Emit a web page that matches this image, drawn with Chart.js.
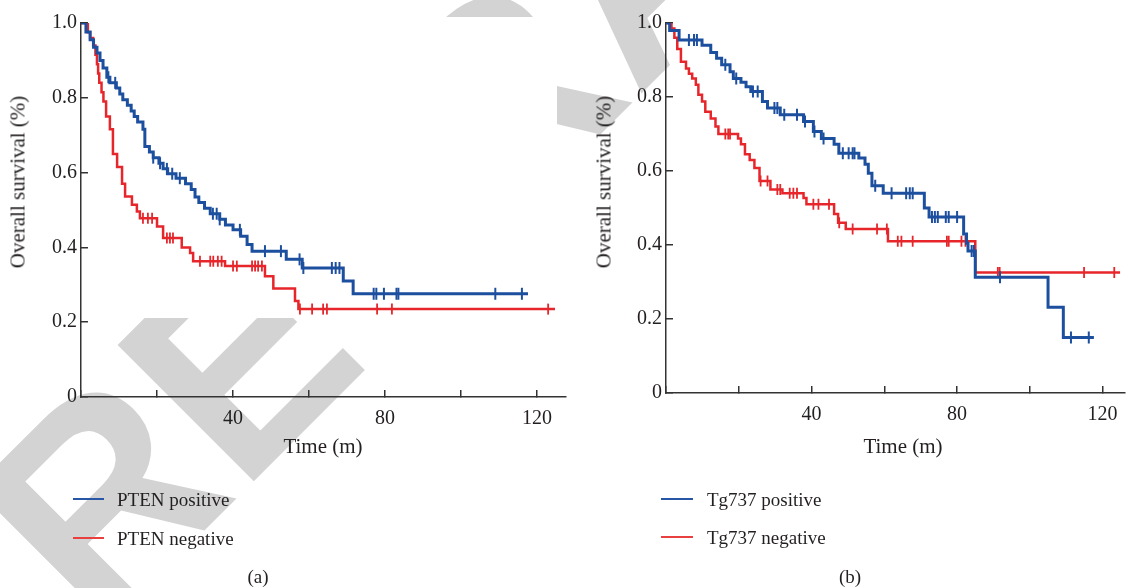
<!DOCTYPE html>
<html><head><meta charset="utf-8">
<script src="https://cdn.jsdelivr.net/npm/chart.js@4.4.0/dist/chart.umd.min.js"></script>
<style>
html,body{margin:0;padding:0;background:#fff;width:1135px;height:588px;overflow:hidden;position:relative;}
canvas{position:absolute;top:0;}
.t{position:absolute;font-family:'Liberation Serif',serif;color:#231f20;font-size:19px;white-space:nowrap;line-height:1;}
.ti{font-size:21px;}
.c{transform:translate(-50%,-50%);}
.l{transform:translate(0,-50%);}
.r{transform:translate(-50%,-50%) rotate(-90deg);}
.ln{position:absolute;height:1.5px;}
</style></head><body>
<canvas id="wm" width="1135" height="588" style="left:0"></canvas>
<canvas id="ca" width="580" height="470" style="left:0"></canvas>
<canvas id="cb" width="555" height="470" style="left:580px"></canvas>

<div class="t ti r" style="left:18px;top:182px">Overall survival (%)</div>
<div class="t ti c" style="left:323px;top:446px">Time (m)</div>
<div class="ln" style="left:73px;top:498px;width:31px;background:#2856a6"></div>
<div class="t l" style="left:117px;top:499px">PTEN positive</div>
<div class="ln" style="left:73px;top:537px;width:31px;background:#e8403f"></div>
<div class="t l" style="left:117px;top:538px">PTEN negative</div>
<div class="t c" style="left:258px;top:576px">(a)</div>

<div class="t ti r" style="left:604px;top:182px">Overall survival (%)</div>
<div class="t ti c" style="left:903px;top:446px">Time (m)</div>
<div class="ln" style="left:661px;top:498px;width:32px;background:#2856a6"></div>
<div class="t l" style="left:707px;top:499px">Tg737 positive</div>
<div class="ln" style="left:661px;top:536px;width:32px;background:#e8403f"></div>
<div class="t l" style="left:707px;top:537px">Tg737 negative</div>
<div class="t c" style="left:850px;top:576px">(b)</div>

<script>
// ---------- data ----------
const yTickVals = [0, 0.2, 0.4, 0.6, 0.8, 1.0];
const xTickVals = [0, 20, 40, 60, 80, 100, 120];
const xTickLabels = [40, 80, 120];

// Panel (a): PTEN
const aPosT = [0,1.3,2.4,3.3,4.2,5.0,5.8,6.8,7.6,9.3,10.2,11.0,12.2,13.2,14.0,14.9,16.3,16.8,18.0,19.0,20.5,21.6,22.8,25.0,27.5,29.0,30.0,31.0,32.5,34.0,36.5,38.0,40.0,42.0,43.7,45.0,54.0,58.2,69.0,71.6,117.6];
const aPosS = [1,0.976,0.955,0.935,0.92,0.90,0.88,0.855,0.84,0.826,0.81,0.795,0.78,0.765,0.75,0.735,0.716,0.67,0.655,0.64,0.625,0.61,0.597,0.585,0.57,0.555,0.535,0.52,0.505,0.49,0.475,0.46,0.447,0.43,0.408,0.39,0.368,0.345,0.31,0.276,0.276];
const aPosCens = [7.2,9.0,19.0,20.8,22.6,24.0,26.0,34.7,35.7,36.5,41.8,48.4,52.6,57.5,58.5,66,67,68,77,77.7,79.7,83,83.5,109,116];
const aNegT = [0,1.8,2.4,3.2,3.8,4.2,4.5,4.8,5.4,5.9,6.6,7.6,8.4,9.5,10.8,11.6,13.4,14.7,15.5,20.0,21.6,26.5,28.7,29.5,37.9,48.4,50.6,56.3,57.2,124.7];
const aNegS = [1,0.975,0.96,0.94,0.915,0.89,0.865,0.84,0.815,0.79,0.75,0.716,0.65,0.615,0.57,0.536,0.514,0.496,0.478,0.456,0.425,0.40,0.385,0.363,0.35,0.323,0.29,0.257,0.235,0.235];
const aNegCens = [16.3,17.6,18.7,22.6,23.4,24.2,31.3,34,34.8,36,37,40,41,45,45.8,46.6,47.6,57.6,60.8,63.7,64.7,77.9,81.8,122.9];

// Panel (b): Tg737
const bPosT = [0,1.0,3.6,9.9,12.3,13.9,15.3,17.6,18.5,20.6,22.0,23.3,26.5,27.9,31.4,37.8,40.5,42.7,46.2,47.5,53.0,54.7,55.6,56.6,59.7,71.0,72.3,81.8,82.6,83.0,85.0,105.0,109.2,117.6];
const bPosS = [1,0.98,0.954,0.94,0.92,0.905,0.887,0.868,0.85,0.84,0.828,0.815,0.788,0.77,0.752,0.734,0.707,0.688,0.672,0.648,0.635,0.618,0.594,0.56,0.54,0.50,0.476,0.43,0.405,0.384,0.313,0.232,0.15,0.15];
const bPosCens = [6.3,7.7,8.5,16.3,19.3,23.9,25.2,29.8,30.6,32.5,36.0,38.2,40.8,43.3,48.6,50.2,51.3,51.8,57.5,62,66,67,67.8,73.1,73.9,74.7,76.9,77.7,80,84.0,84.6,91.8,111.3,116.2];
const bNegT = [0,1.5,2.3,3.1,4.1,5.5,6.3,7.2,8.2,8.9,9.9,10.8,12.3,13.6,14.4,19.8,20.6,21.7,23.0,24.3,25.7,28.7,32.0,37.8,38.6,46.2,47.3,49.4,61.0,85.0,124.8];
const bNegS = [1,0.985,0.96,0.93,0.895,0.877,0.863,0.85,0.833,0.806,0.788,0.76,0.742,0.72,0.70,0.688,0.672,0.645,0.63,0.608,0.573,0.55,0.54,0.527,0.51,0.484,0.46,0.443,0.41,0.326,0.326];
const bNegCens = [16.3,17.1,17.6,26.0,27.9,30.6,31.4,34,35,36,40.5,41.9,44.8,47.6,51.3,58,60.7,63.7,64.7,67.8,77.2,77.7,81.2,82.3,91.2,91.7,114.9,123.2];

// ---------- watermark (background) ----------
(function(){
  const c = document.getElementById('wm').getContext('2d');
  c.save();
  c.beginPath();
  c.rect(0,0,1135,588);
  c.rect(0,17,557,301);
  c.clip('evenodd');
  c.translate(97.6,637.4);
  c.rotate(-Math.PI/4);
  c.fillStyle = '#d3d3d3';
  c.font = "bold 280px 'Liberation Sans'";
  c.textBaseline = 'alphabetic';
  c.fillText('RETRACTED', 0, 0);
  c.restore();
})();

// ---------- charts ----------
const BLUE = '#1d4f9f', RED = '#e6262b', AX = '#333333';
Chart.defaults.font.family = "'Liberation Serif', serif";
Chart.defaults.font.size = 20;
Chart.defaults.color = '#231f20';

function pts(T, S){ return T.map((t,i)=>({x:t, y:S[i]})); }
function stepAt(T, S, t){ let v = S[0]; for (let i=0;i<T.length;i++){ if (T[i] <= t) v = S[i]; } return v; }
function cens(T, S, C){ return C.map(t=>({x:t, y:stepAt(T,S,t)})); }

function makeChart(id, o){
  const ds = [
    {data: pts(o.pT,o.pS), showLine:true, stepped:true, borderColor:BLUE, borderWidth:3, pointRadius:0, fill:false},
    {data: cens(o.pT,o.pS,o.pC), showLine:false, pointStyle:'line', rotation:90, pointRadius:6, borderColor:BLUE, pointBorderColor:BLUE, pointBorderWidth:2},
    {data: pts(o.nT,o.nS), showLine:true, stepped:true, borderColor:RED, borderWidth:2.5, pointRadius:0, fill:false},
    {data: cens(o.nT,o.nS,o.nC), showLine:false, pointStyle:'line', rotation:90, pointRadius:5.5, borderColor:RED, pointBorderColor:RED, pointBorderWidth:1.8}
  ];
  return new Chart(document.getElementById(id), {
    type:'scatter',
    data:{datasets:ds},
    options:{
      responsive:false, animation:false, events:[],
      layout:{padding:{left:0, right:o.padR, top:o.padT, bottom:0}},
      plugins:{legend:{display:false}, tooltip:{enabled:false}},
      scales:{
        x:{type:'linear', min:0, max:o.xmax,
           afterFit:s=>{s.height=o.xh;},
           afterBuildTicks:s=>{s.ticks = xTickVals.map(v=>({value:v}));},
           ticks:{padding:17, maxRotation:0, autoSkip:false, callback:v=>xTickLabels.includes(v)?String(v):''},
           grid:{drawOnChartArea:false, drawTicks:true, tickLength:-7, color:AX, lineWidth:1.5},
           border:{display:true, color:AX, width:1.5}},
        y:{type:'linear', min:0, max:1,
           afterFit:s=>{s.width=o.yw;},
           afterBuildTicks:s=>{s.ticks = yTickVals.map(v=>({value:v}));},
           ticks:{padding:11, autoSkip:false, callback:v=>{const r=Math.round(v*10)/10; return r===0?'0':r.toFixed(1);}},
           grid:{drawOnChartArea:false, drawTicks:true, tickLength:-7, color:AX, lineWidth:1.5},
           border:{display:true, color:AX, width:1.5}}
      }
    }
  });
}

makeChart('ca', {pT:aPosT,pS:aPosS,pC:aPosCens,nT:aNegT,nS:aNegS,nC:aNegCens, xmax:127.6, xh:73, yw:81, padR:14, padT:20});
makeChart('cb', {pT:bPosT,pS:bPosS,pC:bPosCens,nT:bNegT,nS:bNegS,nC:bNegCens, xmax:126, xh:77, yw:86, padR:1, padT:21});
</script>
</body></html>
